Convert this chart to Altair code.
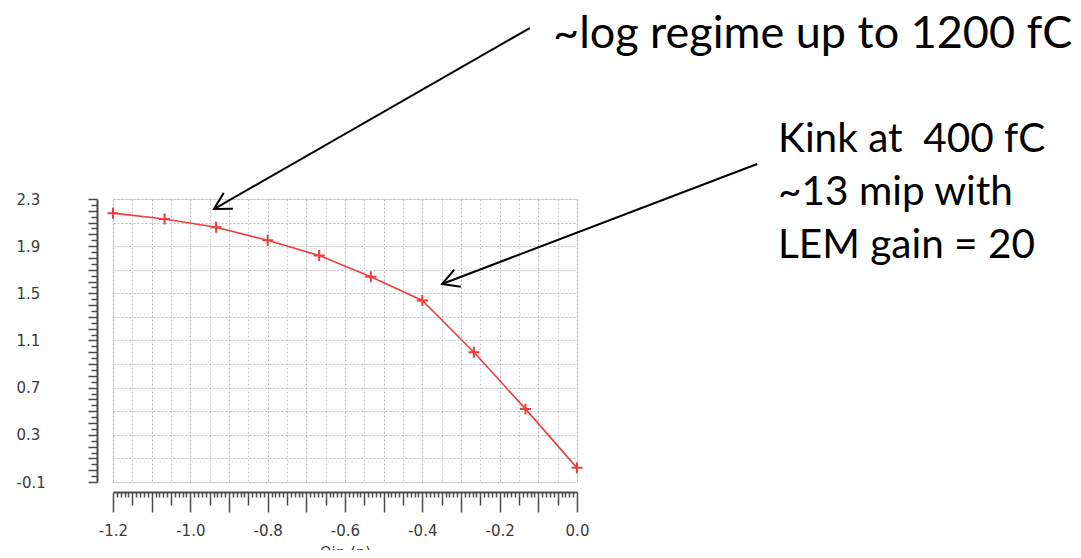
import altair as alt
import pandas as pd

# ---- data ----
qin = [-1.2, -1.0667, -0.9333, -0.8, -0.6667, -0.5333, -0.4, -0.2667, -0.1333, 0.0]
vout = [2.18, 2.13, 2.06, 1.95, 1.82, 1.64, 1.44, 1.00, 0.52, 0.02]

# annotation texts (anchored in data units)
note_text = ["~log regime up to 1200 fC", "Kink at\u00a0 400 fC", "~13 mip with", "LEM gain = 20"]
note_x = [-0.062, 0.52, 0.52, 0.52]
note_y = [3.70, 2.80, 2.351, 1.901]
note_size = [45, 40.5, 40.5, 40.5]

# arrows (tail -> tip, data units)
arrow_x0 = [-0.122, 0.466]
arrow_y0 = [3.750, 2.597]
arrow_x1 = [-0.939, -0.349]
arrow_y1 = [2.215, 1.579]
arrow_angle = [150.2, 159.2]

# tick positions
x_ticks = [round(-1.2 + i * 0.01, 2) for i in range(121)]
y_ticks = [round(-0.1 + i * 0.05, 2) for i in range(49)]

df = pd.DataFrame({"q": qin, "v": vout})
notes = pd.DataFrame({"q": note_x, "v": note_y, "t": note_text, "fs": note_size})
arrows = pd.DataFrame({"q": arrow_x0, "v": arrow_y0, "q2": arrow_x1, "v2": arrow_y1})
heads = pd.DataFrame({"q": arrow_x1, "v": arrow_y1, "ang": arrow_angle})

RED = "#f03c3c"
AX = "#4a4a4a"
LBL = "#3a3a3a"

kx = "round((datum.value + 1.2) * 100)"
ky = "round((datum.value + 0.1) * 20)"
fmt = "replace(format(datum.value, '.1f'), '\u2212', '-')"

x_scale = alt.Scale(domain=[-1.2, 0.0], nice=False, zero=False)
y_scale = alt.Scale(domain=[-0.1, 2.3], nice=False, zero=False)

x_axis = alt.Axis(
    values=x_ticks,
    title="Qin (n)",
    offset=10,
    domainColor=AX, domainWidth=2,
    tickColor=AX, tickWidth=1.5,
    tickSize={"condition": [{"test": f"{kx} % 10 == 0", "value": 20},
                            {"test": f"{kx} % 5 == 0", "value": 13}], "value": 5},
    labelExpr=f"{kx} % 20 == 0 ? {fmt} : ''",
    labelOverlap=False, labelFlush=False, labelBound=False,
    labelPadding=11, labelFontSize=15, labelColor=LBL, labelFont="DejaVu Sans",
    titleFont="DejaVu Sans", titleFontSize=15, titleFontWeight="normal", titleColor=LBL,
    titlePadding=7,
    grid=True,
    gridOpacity={"condition": {"test": f"{kx} % 5 == 0", "value": 1}, "value": 0},
    gridColor={"condition": {"test": f"{kx} % 10 == 0", "value": "#b4b4b4"}, "value": "#d0d0d0"},
    gridDash=[2, 2], gridWidth=1,
)

y_axis = alt.Axis(
    values=y_ticks,
    title=None,
    offset=16,
    domainColor=AX, domainWidth=2,
    tickColor=AX, tickWidth=1.5,
    tickSize={"condition": {"test": f"{ky} % 2 == 0", "value": 9}, "value": 6},
    labelExpr=f"{ky} % 8 == 0 ? {fmt} : ''",
    labelOverlap=False, labelFlush=False, labelBound=False,
    labelAlign="left", labelPadding=72,
    labelFontSize=15, labelColor=LBL, labelFont="DejaVu Sans",
    grid=True,
    gridOpacity={"condition": {"test": f"{ky} % 4 == 0", "value": 1}, "value": 0},
    gridColor="#bcbcbc",
    gridDash=[2, 2], gridWidth=1,
)

X = alt.X("q:Q", scale=x_scale, axis=x_axis)
Y = alt.Y("v:Q", scale=y_scale, axis=y_axis)

line = alt.Chart(df).mark_line(color=RED, strokeWidth=1.6).encode(x=X, y=Y)
pts = alt.Chart(df).mark_point(
    shape="M-1,0L1,0M0,-1L0,1", size=121, filled=False, strokeWidth=2,
    color=RED, opacity=1,
).encode(x=X, y=Y)

shafts = alt.Chart(arrows).mark_rule(color="black", strokeWidth=2).encode(
    x=X, y=Y, x2="q2:Q", y2="v2:Q"
)
tips = alt.Chart(heads).mark_point(
    shape="M-1,-0.55L0,0L-1,0.55", size=1100, filled=False, strokeWidth=2,
    color="black", opacity=1,
).encode(x=X, y=Y, angle=alt.Angle("ang:Q", scale=None))

texts = alt.Chart(notes).mark_text(
    font="Lato", align="left", baseline="middle", color="black"
).encode(x=X, y=Y, text="t:N", size=alt.Size("fs:Q", scale=None, legend=None))

chart = alt.layer(line, pts, shafts, tips, texts).properties(
    width=464, height=283,
    autosize=alt.AutoSizeParams(type="none"),
    padding={"left": 105, "top": 191, "right": 496, "bottom": 68},
).configure_view(stroke=None).configure(background="white")

chart.save("out.html", embed_options={"renderer": "svg", "actions": False})
